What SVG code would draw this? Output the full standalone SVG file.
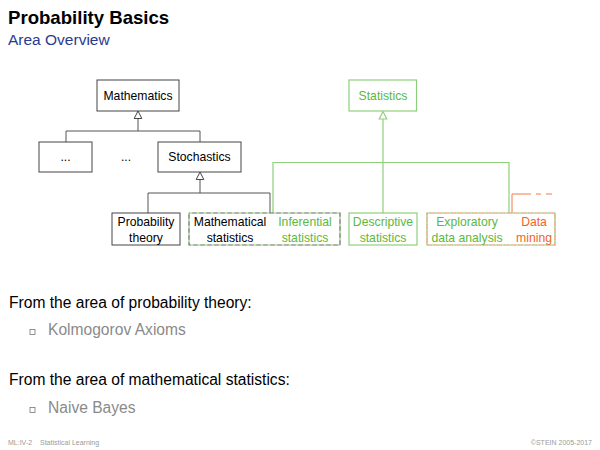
<svg xmlns="http://www.w3.org/2000/svg" width="600" height="450" viewBox="0 0 600 450">
  <defs>
    <style>
      text { font-family: "Liberation Sans", Arial, sans-serif; }
      .title { font-size: 18.6px; font-weight: bold; fill: #000; }
      .subtitle { font-size: 15.5px; fill: #2b3990; }
      .lbl { font-size: 12.2px; fill: #000; text-anchor: middle; }
      .lbl-g { font-size: 12.2px; fill: #5cb83e; text-anchor: middle; }
      .lbl-o { font-size: 12.2px; fill: #f06424; text-anchor: middle; }
      .body { font-size: 15.6px; fill: #000; }
      .item { font-size: 15.6px; fill: #8a8a8a; }
      .foot { font-size: 7px; fill: #9a9a9a; }
      .box { fill: #fff; stroke: #444; stroke-width: 1; }
      .box-g { fill: #fff; stroke: #8ed07a; stroke-width: 1.2; }
      .ln { fill: none; stroke: #555; stroke-width: 1; }
      .ln-g { fill: none; stroke: #8ed07a; stroke-width: 1.2; }
      .ln-o { fill: none; stroke: #f07a48; stroke-width: 1; }
      .head { fill: #fff; stroke: #444; stroke-width: 1; }
      .head-g { fill: #fff; stroke: #8ed07a; stroke-width: 1.2; }
      .bullet { fill: #fff; stroke: #777; stroke-width: 0.8; }
    </style>
    <!-- hollow inheritance arrowhead, apex at origin -->
    <path id="tri" d="M0,0 L3.8,7.5 L-3.8,7.5 Z"/>
  </defs>

  <rect width="600" height="450" fill="#fff"/>

  <!-- heading -->
  <text class="title" x="8" y="24">Probability Basics</text>
  <text class="subtitle" x="8" y="45">Area Overview</text>

  <!-- connectors -->
  <g id="connectors">
    <!-- Mathematics hierarchy -->
    <path class="ln" d="M138,131 V118.5"/>
    <use href="#tri" class="head" x="138" y="111"/>
    <path class="ln" d="M66,142 V131 H200 V142"/>
    <!-- Stochastics hierarchy -->
    <path class="ln" d="M200,193 V179.5"/>
    <use href="#tri" class="head" x="200" y="172"/>
    <path class="ln" d="M148,213 V193 H270 V213"/>
    <!-- Statistics hierarchy -->
    <path class="ln-g" d="M383,213 V119"/>
    <use href="#tri" class="head-g" x="383" y="111.5"/>
    <path class="ln-g" d="M273,213 V162.5 H509 V213"/>
    <!-- data mining link -->
    <path class="ln-o" d="M512,213 V194 H531"/>
    <path class="ln-o" d="M536,194 H541 M546,194 H552"/>
  </g>

  <!-- nodes -->
  <g id="n-mathematics">
    <rect class="box" x="97" y="80" width="82" height="31"/>
    <text class="lbl" x="138" y="100">Mathematics</text>
  </g>
  <g id="n-other">
    <rect class="box" x="39" y="142" width="53" height="30"/>
    <text class="lbl" x="65.5" y="161">...</text>
  </g>
  <g id="n-ellipsis">
    <text class="lbl" x="126" y="161">...</text>
  </g>
  <g id="n-stochastics">
    <rect class="box" x="158" y="142" width="83" height="30"/>
    <text class="lbl" x="199.5" y="161">Stochastics</text>
  </g>
  <g id="n-statistics">
    <rect class="box-g" x="349" y="80" width="67.5" height="31"/>
    <text class="lbl-g" x="383" y="100">Statistics</text>
  </g>
  <g id="n-probability-theory">
    <rect class="box" x="112" y="213" width="68" height="32"/>
    <text class="lbl" x="146" y="226">Probability</text>
    <text class="lbl" x="146" y="242">theory</text>
  </g>
  <g id="n-math-inferential">
    <rect x="189" y="213" width="151" height="32" fill="#fff" stroke="#8ed07a" stroke-width="1.2" stroke-dasharray="4 3"/>
    <rect x="189" y="213" width="151" height="32" fill="none" stroke="#666" stroke-width="1.2" stroke-dasharray="4 3" stroke-dashoffset="3.5"/>
    <text class="lbl" x="230" y="226">Mathematical</text>
    <text class="lbl" x="230" y="242">statistics</text>
    <text class="lbl-g" x="305" y="226">Inferential</text>
    <text class="lbl-g" x="305" y="242">statistics</text>
  </g>
  <g id="n-descriptive">
    <rect class="box-g" x="349" y="213" width="68" height="32"/>
    <text class="lbl-g" x="383" y="226">Descriptive</text>
    <text class="lbl-g" x="383" y="242">statistics</text>
  </g>
  <g id="n-exploratory-mining">
    <rect x="427" y="213" width="128" height="32" fill="#fff" stroke="#8ed07a" stroke-width="1.2" stroke-dasharray="4 3"/>
    <rect x="427" y="213" width="128" height="32" fill="none" stroke="#f08a5a" stroke-width="1.2" stroke-dasharray="4 3" stroke-dashoffset="3.5"/>
    <text class="lbl-g" x="467" y="226">Exploratory</text>
    <text class="lbl-g" x="467" y="242">data analysis</text>
    <text class="lbl-o" x="534" y="226">Data</text>
    <text class="lbl-o" x="534" y="242">mining</text>
  </g>

  <!-- body text -->
  <text class="body" x="9" y="308">From the area of probability theory:</text>
  <rect class="bullet" x="30" y="329.5" width="5" height="5"/>
  <text class="item" x="48" y="335">Kolmogorov Axioms</text>
  <text class="body" x="9" y="385">From the area of mathematical statistics:</text>
  <rect class="bullet" x="30" y="407.5" width="5" height="5"/>
  <text class="item" x="48" y="413">Naive Bayes</text>

  <!-- footer -->
  <text class="foot" x="8" y="445">ML:IV-2</text>
  <text class="foot" x="40" y="445">Statistical Learning</text>
  <text class="foot" x="592" y="445" text-anchor="end">©STEIN 2005-2017</text>
</svg>
